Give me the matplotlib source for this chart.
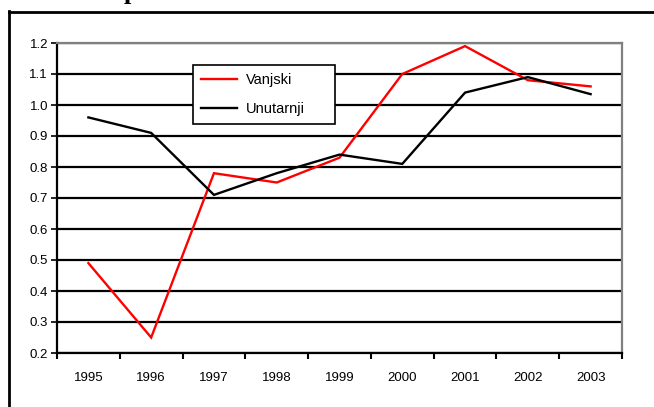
import matplotlib
matplotlib.use("Agg")
import matplotlib.pyplot as plt
from matplotlib.lines import Line2D

years = ["1995", "1996", "1997", "1998", "1999", "2000", "2001", "2002", "2003"]
vanjski = [0.49, 0.25, 0.78, 0.75, 0.83, 1.10, 1.19, 1.08, 1.06]
unutarnji = [0.96, 0.91, 0.71, 0.78, 0.84, 0.81, 1.04, 1.09, 1.035]
yticks = [0.2, 0.3, 0.4, 0.5, 0.6, 0.7, 0.8, 0.9, 1.0, 1.1, 1.2]

W, H = 654, 407
fig = plt.figure(figsize=(W / 100, H / 100), dpi=100)
plt.rcParams['font.family'] = ['Liberation Sans', 'DejaVu Sans']

ax = fig.add_axes([57 / W, (H - 353) / H, (622 - 57) / W, (353 - 43) / H])
x = list(range(len(years)))
ax.plot(x, vanjski, color='#ff0000', lw=1.7, label='Vanjski', zorder=3, solid_joinstyle='miter')
ax.plot(x, unutarnji, color='black', lw=1.7, label='Unutarnji', zorder=3, solid_joinstyle='miter')

ax.set_xlim(-0.5, len(years) - 0.5)
ax.set_ylim(0.2, 1.2)
ax.set_yticks(yticks)
ax.set_yticklabels([f"{v:.1f}" for v in yticks], fontsize=9.5)
ax.set_xticks([i - 0.5 for i in range(len(years) + 1)])
ax.set_xticklabels([])
ax.set_xticks(x, minor=True)
ax.set_xticklabels(years, minor=True, fontsize=9.5)
ax.tick_params(axis='x', which='minor', length=0, pad=14)
ax.tick_params(axis='x', which='major', length=4, width=1.5, direction='out', color='black')
ax.tick_params(axis='y', length=4, width=1.2, direction='out', pad=2.5)

ax.grid(axis='y', color='black', lw=1.6, zorder=1)
ax.set_axisbelow(True)
for s in ['left', 'bottom']:
    ax.spines[s].set_color('black')
    ax.spines[s].set_linewidth(1.6)
for s in ['top', 'right']:
    ax.spines[s].set_color('#808080')
    ax.spines[s].set_linewidth(1.6)

leg = ax.legend(loc='upper left', bbox_to_anchor=(193 / W, 1 - 126 / H, 142 / W, 61 / H),
                bbox_transform=fig.transFigure, mode='expand', borderaxespad=0,
                fancybox=False, framealpha=1, edgecolor='black', fontsize=10.5,
                handlelength=2.5, handletextpad=0.6, labelspacing=1.05, borderpad=0.55)
leg.get_frame().set_linewidth(1.2)

# outer frame (left and top visible)
fig.add_artist(Line2D([9 / W, 9 / W], [0, 1 - 11 / H], color='black', lw=2.0, transform=fig.transFigure))
fig.add_artist(Line2D([9 / W, 1], [1 - 11.5 / H, 1 - 11.5 / H], color='black', lw=2.0, transform=fig.transFigure))

# cut-off title fragment
fig.text(124 / W, 1 + 1 / H, "p", fontfamily='Liberation Serif', fontweight='bold', fontsize=19, va='baseline')

fig.savefig("out.png", dpi=100)
